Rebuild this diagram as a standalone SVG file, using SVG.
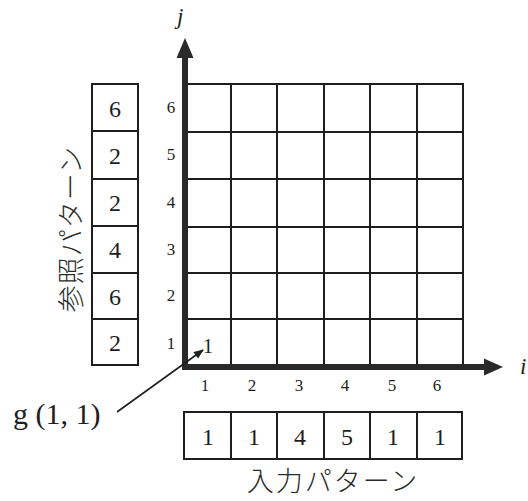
<svg xmlns="http://www.w3.org/2000/svg" width="528" height="501" viewBox="0 0 528 501">
<style>
.g{stroke:#1e1e1e;stroke-width:2;fill:none}
.ax{stroke:#2a2a2a;stroke-width:6;fill:none}
.n{font-family:"Liberation Serif","Times New Roman",serif;fill:#1e1e1e;text-anchor:middle}
.big{font-size:24px}
.sm{font-size:17px}
.jp{font-family:"Noto Sans CJK JP","Noto Sans CJK SC",sans-serif;font-weight:300;font-size:27px;fill:#2a2a2a;text-anchor:middle}
.it{font-family:"Liberation Serif","Times New Roman",serif;font-style:italic;font-size:23px;fill:#1e1e1e}
</style>
<defs>
<marker id="sa" viewBox="0 0 10 10" refX="9" refY="5" markerWidth="12" markerHeight="10" orient="auto" markerUnits="userSpaceOnUse">
<path d="M0,1 L10,5 L0,9 z" fill="#1e1e1e"/>
</marker>
</defs>
<rect width="528" height="501" fill="#fff"/>
<g id="grid">
<rect class="g" x="185" y="84" width="278" height="282"/>
<path class="g" d="M231,84V366M277,84V366M324,84V366M370,84V366M417,84V366M185,132H463M185,179H463M185,227H463M185,273H463M185,319H463"/>
<text class="n" x="208" y="353" style="font-size:20px">1</text>
</g>
<g id="axes">
<path class="ax" d="M185,370V56"/>
<path d="M176.5,58 L185,38 L193.5,58 z" fill="#2a2a2a"/>
<path class="ax" d="M182,367H485"/>
<path d="M484,358.5 L503,367 L484,375.5 z" fill="#2a2a2a"/>
<text class="it" x="177" y="24">j</text>
<text class="it" x="520" y="374">i</text>
</g>
<g id="j-labels" class="n sm">
<text x="171" y="113">6</text>
<text x="171" y="160">5</text>
<text x="171" y="208">4</text>
<text x="171" y="255">3</text>
<text x="171" y="301">2</text>
<text x="171" y="349">1</text>
</g>
<g id="i-labels" class="n sm">
<text x="205" y="391">1</text>
<text x="252" y="391">2</text>
<text x="299" y="391">3</text>
<text x="345" y="391">4</text>
<text x="392" y="391">5</text>
<text x="437" y="391">6</text>
</g>
<g id="reference-pattern">
<rect class="g" x="92" y="84" width="46" height="281"/>
<path class="g" d="M92,131H138M92,179H138M92,226H138M92,273H138M92,319H138"/>
<g class="n big">
<text x="115" y="117">6</text>
<text x="115" y="164">2</text>
<text x="115" y="211">2</text>
<text x="115" y="258">4</text>
<text x="115" y="305">6</text>
<text x="115" y="351">2</text>
</g>
<text class="jp" transform="translate(81,229) rotate(-90)" letter-spacing="1">参照パターン</text>
</g>
<g id="input-pattern">
<rect class="g" x="184" y="412" width="278" height="47"/>
<path class="g" d="M231,412V459M277,412V459M324,412V459M370,412V459M417,412V459"/>
<g class="n big">
<text x="208" y="445">1</text>
<text x="254" y="445">1</text>
<text x="300" y="445">4</text>
<text x="347" y="445">5</text>
<text x="393" y="445">1</text>
<text x="440" y="445">1</text>
</g>
<text class="jp" x="333" y="491" letter-spacing="2">入力パターン</text>
</g>
<g id="g11">
<text x="13" y="424" style="font-family:'Liberation Serif','Times New Roman',serif;font-size:30px;fill:#1e1e1e">g (1, 1)</text>
</g>
<g id="connectors">
<path d="M117,412 L203,350" stroke="#1e1e1e" stroke-width="1.6" fill="none" marker-end="url(#sa)"/>
</g>
</svg>
